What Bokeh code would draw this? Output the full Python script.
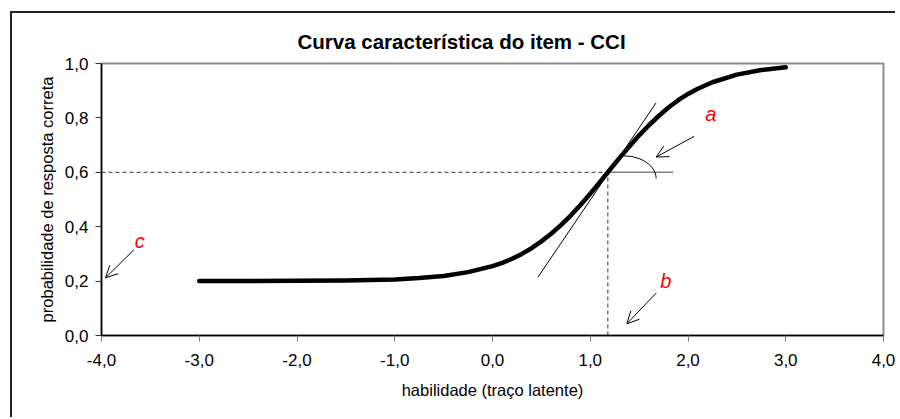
from bokeh.plotting import figure
from bokeh.models import Label, Arrow, OpenHead, FixedTicker, Title
from bokeh.embed import file_html
from bokeh.resources import INLINE

# ---- data ----
theta = [-3.0, -2.5, -2.0, -1.5, -1.0, -0.75, -0.5, -0.25, 0.0, 0.1, 0.2, 0.3,
         0.4, 0.5, 0.6, 0.7, 0.8, 0.9, 1.0, 1.1, 1.18, 1.3, 1.4, 1.5, 1.6, 1.7,
         1.8, 1.9, 2.0, 2.1, 2.25, 2.5, 2.75, 3.0]
prob = [0.200, 0.200, 0.201, 0.202, 0.206, 0.211, 0.219, 0.233, 0.255, 0.267,
        0.282, 0.300, 0.321, 0.346, 0.374, 0.406, 0.441, 0.480, 0.521, 0.565,
        0.600, 0.653, 0.695, 0.736, 0.773, 0.807, 0.838, 0.865, 0.888, 0.907,
        0.931, 0.959, 0.976, 0.986]

x_ticks = [-4, -3, -2, -1, 0, 1, 2, 3, 4]
x_tick_labels = ["-4,0", "-3,0", "-2,0", "-1,0", "0,0", "1,0", "2,0", "3,0", "4,0"]
y_ticks = [0.0, 0.2, 0.4, 0.6, 0.8, 1.0]
y_tick_labels = ["0,0", "0,2", "0,4", "0,6", "0,8", "1,0"]

b_param = 1.18       # difficulty (b)
p_at_b = 0.60        # probability at b
c_param = 0.20       # guessing (c)
tangent_x = [0.466, 1.673]
tangent_y = [0.215, 0.855]
horiz_end = 1.85

FONT = "Liberation Sans"

p = figure(width=898, height=417, x_range=(-4, 4), y_range=(0, 1),
           output_backend="svg", toolbar_location=None, title=None,
           min_border_left=101, min_border_right=15, min_border_top=63,
           min_border_bottom=82)
p.grid.visible = False
p.outline_line_color = "#8c8c8c"
p.outline_line_width = 2
p.background_fill_color = "white"
p.border_fill_color = None
p.styles = {
    "background": ("linear-gradient(#222,#222) 10px 11px / 2px 406px no-repeat, "
                   "linear-gradient(#222,#222) 10px 11px / 885px 2px no-repeat, white"),
}

# title
p.add_layout(Title(text="Curva característica do item - CCI", align="left",
                   offset=196, text_font=FONT, text_font_size="20.5px",
                   text_font_style="bold", text_color="black", standoff=22),
             "above")

# axes
p.xaxis.ticker = FixedTicker(ticks=x_ticks)
p.yaxis.ticker = FixedTicker(ticks=y_ticks)
p.xaxis.major_label_overrides = dict(zip(x_ticks, x_tick_labels))
p.yaxis.major_label_overrides = dict(zip(y_ticks, y_tick_labels))
for ax in (p.xaxis, p.yaxis):
    ax.axis_line_color = "black"
    ax.axis_line_width = 1.5
    ax.minor_tick_line_color = None
    ax.major_tick_in = 0
    ax.major_tick_out = 6
    ax.major_label_text_font = FONT
    ax.major_label_text_font_size = "17px"
    ax.major_label_text_color = "black"
    ax.axis_label_text_font = FONT
    ax.axis_label_text_font_size = "16.5px"
    ax.axis_label_text_font_style = "normal"
    ax.axis_label_text_color = "black"
p.xaxis.major_tick_line_color = "#777777"
p.yaxis.major_tick_line_color = "#333333"
p.xaxis.major_label_standoff = 12
p.yaxis.major_label_standoff = 7
p.xaxis.axis_label = "habilidade (traço latente)"
p.yaxis.axis_label = "probabilidade de resposta correta"
p.xaxis.axis_label_standoff = 12
p.yaxis.axis_label_standoff = 6

# guide lines
p.line([-4, b_param], [p_at_b, p_at_b], line_color="#333333", line_width=1,
       line_dash="4 3")
p.line([b_param, b_param], [0, p_at_b], line_color="#333333", line_width=1,
       line_dash="4 3")
p.line([b_param, horiz_end], [p_at_b, p_at_b], line_color="#808080", line_width=1.5)
p.line(tangent_x, tangent_y, line_color="black", line_width=1)

# angle arc
p.bezier(x0=[1.345], y0=[0.660], x1=[1.674], y1=[0.577],
         cx0=[1.530], cy0=[0.660], cx1=[1.674], cy1=[0.622],
         line_color="black", line_width=1)

# ICC curve
p.line(theta, prob, line_color="black", line_width=4.5, line_join="round",
       line_cap="round")

# letter annotations
for txt, lx, ly in (("a", 2.233, 0.813), ("b", 1.773, 0.202), ("c", -3.608, 0.347)):
    p.add_layout(Label(x=lx, y=ly, text=txt, text_font=FONT,
                       text_font_size="20px", text_font_style="italic",
                       text_color="#ff0000", text_align="center",
                       text_baseline="middle"))

for xs, ys, xe, ye in ((2.062, 0.732, 1.674, 0.656),
                       (1.677, 0.157, 1.374, 0.043),
                       (-3.669, 0.315, -3.959, c_param + 0.012)):
    p.add_layout(Arrow(end=OpenHead(size=12, line_width=1, line_color="black"),
                       x_start=xs, y_start=ys, x_end=xe, y_end=ye,
                       line_color="black", line_width=1))

open("out.html", "w").write(file_html(p, INLINE))
